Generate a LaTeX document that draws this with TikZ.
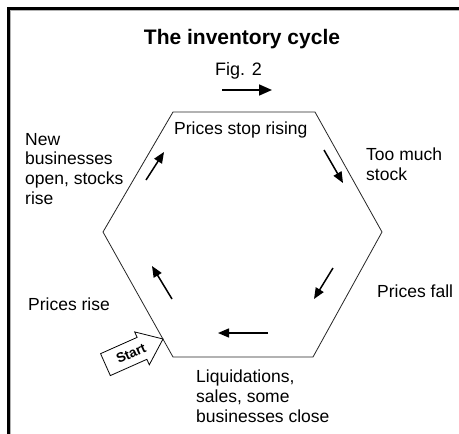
\documentclass[tikz,border=0pt]{standalone}
\usepackage{fontspec}
\setmainfont{Liberation Sans}
\usetikzlibrary{arrows.meta}
\begin{document}
\begin{tikzpicture}[x=1pt,y=-1pt,
  lbl/.style={anchor=north west, inner sep=0pt, align=left,
    font=\fontsize{17.5}{19.6}\selectfont},
  flow/.style={line width=1.5pt, -{Triangle[length=11pt,width=9pt]}},
  bigflow/.style={line width=1.6pt, -{Triangle[length=13pt,width=11pt]}},
  hexedge/.style={line width=0.8pt, black!85},
  startoutline/.style={draw, line width=0.8pt, fill=white, line join=miter},
  starttext/.style={inner sep=0pt, rotate=24,
    font=\bfseries\fontsize{13.5}{15}\selectfont}]
\useasboundingbox (0,0) rectangle (459,434);
\fill[white] (0,0) rectangle (459,434);

% page frame (top and left rules)
\draw[line width=1pt, black!30] (10.9,434) -- (10.9,10.9) -- (459,10.9);
\draw[line width=2.8pt] (8.6,434) -- (8.6,8.6) -- (459,8.6);

% titles
\node[anchor=north, inner sep=0pt, font=\bfseries\fontsize{21}{25}\selectfont]
  (title) at (242,29) {The inventory cycle};
\node[anchor=north, inner sep=0pt, font=\fontsize{18}{20}\selectfont]
  (fig) at (238.5,62) {Fig. 2};
\coordinate (dirA) at (222,90);
\coordinate (dirB) at (272,90);
\draw[bigflow] (dirA) -- (dirB);

% the cycle
\coordinate (h1) at (173,112);
\coordinate (h2) at (315,112);
\coordinate (h3) at (382,232);
\coordinate (h4) at (313,357);
\coordinate (h5) at (173,357);
\coordinate (h6) at (103,232);
\draw[hexedge] (h1) -- (h2) -- (h3) -- (h4) -- (h5) -- (h6) -- cycle;

% stage labels
\node[lbl] (stop)  at (174,122) {Prices stop rising};
\node[lbl] (much)  at (366,148) {Too much\\stock};
\node[lbl] (fall)  at (377,285) {Prices fall};
\node[lbl] (liq)   at (196,370) {Liquidations,\\sales, some\\businesses close};
\node[lbl] (rise)  at (28,298)  {Prices rise};
\node[lbl] (open)  at (25,133)  {New\\businesses\\open, stocks\\rise};

% direction arrows around the cycle
\coordinate (a1s) at (324,150); \coordinate (a1e) at (343,183);
\coordinate (a2s) at (333,268); \coordinate (a2e) at (314,299);
\coordinate (a3s) at (268,333); \coordinate (a3e) at (218,333);
\coordinate (a4s) at (172,299); \coordinate (a4e) at (152,266);
\coordinate (a5s) at (146,180); \coordinate (a5e) at (164,152);
\draw[flow] (a1s) -- (a1e);
\draw[flow] (a2s) -- (a2e);
\draw[flow] (a3s) -- (a3e);
\draw[flow] (a4s) -- (a4e);
\draw[flow] (a5s) -- (a5e);

% start marker: block arrow whose tip touches the lower left edge
\begin{scope}[shift={(163,339)}, rotate=24]
  \draw[startoutline] (0,0) -- (-23,18) -- (-23,12) -- (-63,12)
    -- (-63,-12) -- (-23,-12) -- (-23,-18) -- cycle;
  \node[starttext] (start) at (-35,0) {Start};
\end{scope}
\end{tikzpicture}
\end{document}
